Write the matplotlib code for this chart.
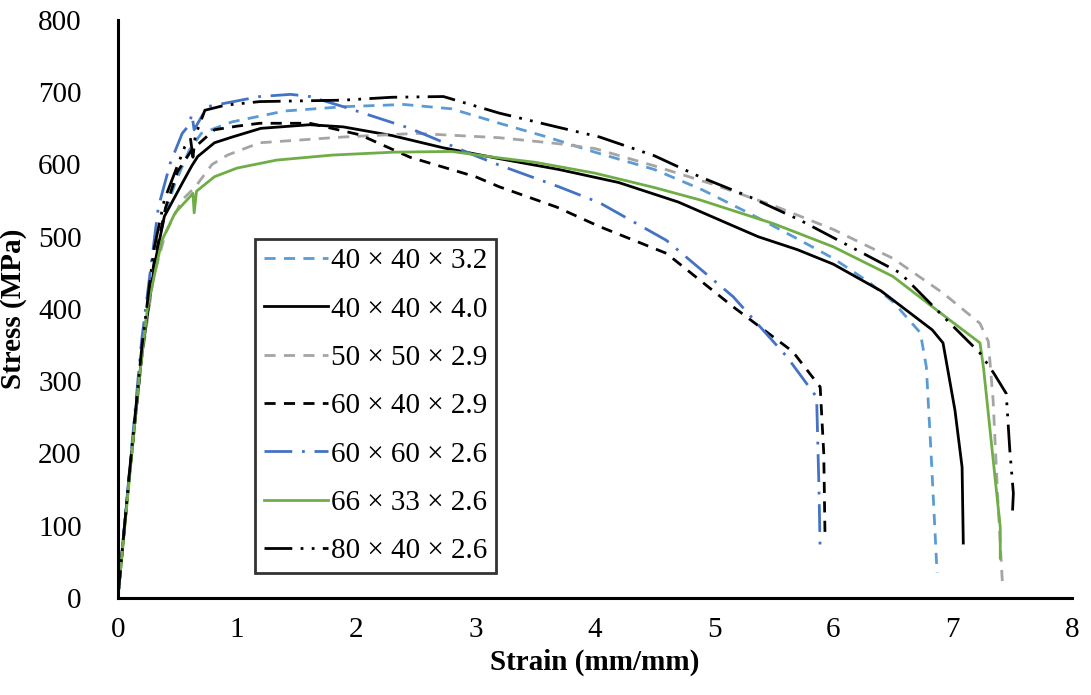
import matplotlib.pyplot as plt

plt.rcParams['font.family'] = ['Liberation Serif', 'DejaVu Serif']

labels = ['40 × 40 × 3.2', '40 × 40 × 4.0', '50 × 50 × 2.9', '60 × 40 × 2.9',
          '60 × 60 × 2.6', '66 × 33 × 2.6', '80 × 40 × 2.6']

x1 = [0, 0.1, 0.2, 0.3, 0.4, 0.48, 0.6, 0.7, 0.96, 1.4, 1.9, 2.4, 2.8, 3.2, 3.6,
      4.0, 4.5, 4.9, 5.3, 5.7, 6.0, 6.3, 6.5, 6.73, 6.78, 6.82, 6.87]
y1 = [0, 175, 340, 460, 535, 574, 620, 643, 659, 674, 680, 683, 677, 657, 638,
      617, 593, 565, 532, 497, 470, 437, 410, 367, 320, 200, 35]

x2 = [0, 0.1, 0.2, 0.31, 0.39, 0.54, 0.62, 0.67, 0.81, 0.96, 1.2, 1.61, 1.89, 2.3, 2.73,
      3.2, 3.7, 4.2, 4.7, 5.16, 5.37, 5.7, 6.0, 6.4, 6.83, 6.92, 7.02, 7.08, 7.09]
y2 = [0, 175, 335, 463, 528, 574, 598, 611, 630, 638, 650, 655, 652, 640, 623,
      608, 593, 575, 548, 515, 500, 482, 462, 425, 371, 353, 260, 181, 76]

x3 = [0, 0.1, 0.2, 0.3, 0.4, 0.54, 0.65, 0.79, 0.92, 1.19, 1.89, 2.5, 3.2, 3.68, 4.0,
      4.5, 5.0, 5.5, 6.0, 6.5, 6.92, 7.23, 7.30, 7.34, 7.38, 7.42]
y3 = [0, 175, 330, 445, 505, 551, 569, 600, 613, 630, 638, 643, 637, 629, 622,
      598, 572, 543, 510, 470, 422, 380, 355, 274, 136, 15]

x4 = [0, 0.1, 0.2, 0.3, 0.4, 0.5, 0.62, 0.81, 1.0, 1.19, 1.61, 2.03, 2.45, 3.0, 3.2,
      3.68, 4.04, 4.6, 5.16, 5.66, 5.89, 5.92, 5.93]
y4 = [0, 175, 335, 460, 540, 590, 620, 648, 653, 657, 657, 641, 610, 583, 569,
      541, 514, 477, 403, 341, 292, 200, 90]

x5 = [0, 0.1, 0.2, 0.34, 0.44, 0.54, 0.6, 0.62, 0.64, 0.75, 1.19, 1.45, 1.61, 1.89,
      2.45, 3.0, 3.2, 3.7, 4.04, 4.6, 5.16, 5.61, 5.86, 5.88, 5.89]
y5 = [0, 180, 357, 541, 602, 643, 655, 670, 648, 680, 694, 697, 694, 680,
      650, 612, 599, 569, 547, 495, 417, 334, 278, 150, 62]

x6 = [0, 0.1, 0.17, 0.25, 0.37, 0.48, 0.62, 0.63, 0.64, 0.66, 0.81, 1.0, 1.33,
      1.8, 2.31, 2.8, 3.2, 3.5, 4.0, 4.5, 4.88, 5.5, 6.0, 6.5, 6.95, 7.23, 7.26, 7.40, 7.40]
y6 = [0, 170, 290, 403, 495, 533, 558, 560, 533, 563, 583, 595, 606,
      613, 617, 618, 609, 603, 588, 568, 551, 518, 486, 445, 388, 353, 318, 98, 55]

x7 = [0, 0.1, 0.2, 0.3, 0.39, 0.56, 0.61, 0.63, 0.65, 0.73, 0.9, 1.19, 1.89, 2.3, 2.73,
      3.2, 3.68, 4.04, 4.5, 4.88, 5.3, 5.72, 6.1, 6.56, 6.95, 7.23, 7.35, 7.45, 7.48,
      7.51, 7.50]
y7 = [0, 178, 345, 480, 551, 624, 635, 610, 640, 675, 682, 687, 689, 693, 694,
      671, 652, 638, 612, 583, 555, 523, 490, 450, 385, 339, 310, 283, 205,
      145, 110]

series = [(x1, y1), (x2, y2), (x3, y3), (x4, y4), (x5, y5), (x6, y6), (x7, y7)]
colors = ['#5B9BD5', 'black', '#A5A5A5', 'black', '#4472C4', '#70AD47', 'black']
styles = [(0, (4, 3)), '-', (0, (4, 3)), (0, (4, 3)), (0, (10, 3.5, 1, 3.5)), '-',
          (0, (10, 3, 1, 3, 1, 3))]

fig = plt.figure(figsize=(10.91, 6.95), dpi=100)
ax = fig.add_axes([0.108, 0.1396, 0.8744, 0.8317])

for (x, y), c, ls, lab in zip(series, colors, styles, labels):
    ax.plot(x, y, color=c, linestyle=ls, linewidth=2, label=lab)

ax.set_xlim(0, 8)
ax.set_ylim(0, 800)
ax.set_xticks(range(0, 9))
ax.set_yticks(range(0, 801, 100))
ax.tick_params(length=0, labelsize=21, pad=14)
ax.tick_params(axis='y', pad=26)
for s in ['top', 'right']:
    ax.spines[s].set_visible(False)
for s in ['left', 'bottom']:
    ax.spines[s].set_linewidth(2.2)
    ax.spines[s].set_color('black')

ax.set_xlabel('Strain (mm/mm)', fontsize=21, fontweight='bold', labelpad=4)
ax.set_ylabel('Stress (MPa)', fontsize=21, fontweight='bold', labelpad=8)

leg = ax.legend(loc='lower left', bbox_to_anchor=(0.1436, 0.0435), fontsize=21,
                frameon=True, fancybox=False, handlelength=2.2, handletextpad=0.1,
                labelspacing=0.75, borderpad=0.3, borderaxespad=0)
leg.get_frame().set_edgecolor('black')
leg.get_frame().set_linewidth(2)

fig.savefig('out.png', dpi=100)
